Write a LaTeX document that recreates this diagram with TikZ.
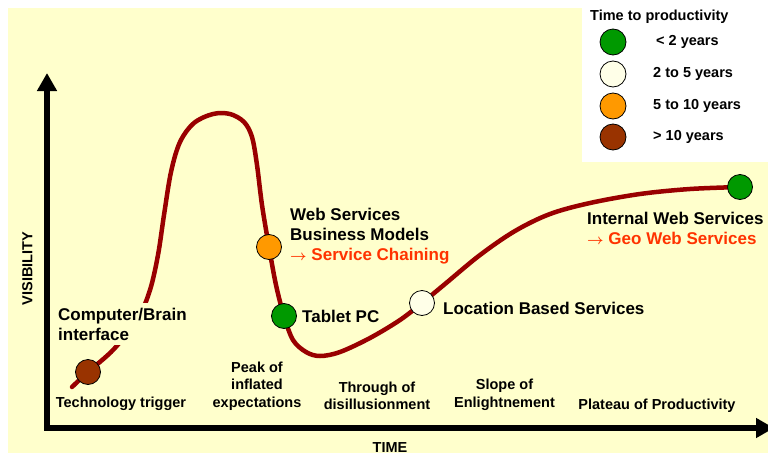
\documentclass[tikz,border=0pt]{standalone}
\usepackage{fontspec}
\setmainfont{Liberation Sans}
\newcommand{\rarr}{{\fontsize{15.5}{15.5}\selectfont\boldmath$\rightarrow$}}
\usetikzlibrary{arrows.meta}
\definecolor{bgyellow}{HTML}{FFFFCC}
\definecolor{curvered}{HTML}{990000}
\definecolor{dotgreen}{HTML}{009900}
\definecolor{dotpale}{HTML}{FFFFE8}
\definecolor{dotorange}{HTML}{FF9900}
\definecolor{dotbrown}{HTML}{993300}
\definecolor{redtext}{HTML}{FF3300}
\tikzset{
  lbl/.style={font=\fontsize{17}{20}\selectfont\bfseries, align=left, inner sep=0pt},
  phase/.style={font=\fontsize{14.5}{17.5}\selectfont\bfseries, align=center, inner sep=0pt},
  legtxt/.style={font=\fontsize{14.5}{17}\selectfont\bfseries, inner sep=0pt, anchor=west},
  dot/.style={circle, draw=black, line width=0.8pt, minimum size=25pt, inner sep=0pt},
  hype/.style={draw=curvered, line width=4.5pt, line cap=round},
  axis/.style={line width=5.5pt, line join=miter, {Triangle[width=19pt,length=18pt]}-{Triangle[width=19pt,length=18pt]}},
}
\begin{document}
\begin{tikzpicture}[x=1pt,y=-1pt]
\useasboundingbox (0,0) rectangle (768,455);
\clip (0,0) rectangle (768,455);
\fill[white] (0,0) rectangle (768,455);
\fill[bgyellow] (8,8) rectangle (768,453);
\fill[white] (582,0) rectangle (768,162);

% axes
\coordinate (origin) at (47,428);
\coordinate (ytop) at (47,73);
\coordinate (xend) at (774,428);
\draw[axis] (ytop) -- (origin) -- (xend);
\node[phase, rotate=90] (vis) at (27.5,268.5) {VISIBILITY};
\node[phase] (time) at (390,448) {TIME};

% curve points
\coordinate (c0) at (72,387);
\coordinate (p1) at (88,372);
\coordinate (p2) at (269,247);
\coordinate (p3) at (284,316);
\coordinate (p4) at (422,303);
\coordinate (p5) at (740,187);
\draw[hype] plot[smooth, tension=0.55] coordinates {(c0) (p1) (114,349) (138,318) (150,290) (158,255) (164,215) (171,172) (180,142) (194,123) (213,114) (230,114) (244,122) (252,137) (257,165) (262,205) (p2) (276,285) (p3) (293,340) (306,352) (320,356) (340,352) (370,338) (400,320) (p4) (445,284) (480,255) (515,231) (550,214) (590,203) (640,194) (690,189) (p5)};

% label masking the curve
\node[lbl, fill=bgyellow, inner xsep=2pt, inner ysep=5pt, anchor=west] (cbi) at (56,324) {Computer/Brain\\interface};

% dots on curve
\node[dot, fill=dotbrown] (d1) at (p1) {};
\node[dot, fill=dotorange] (d2) at (p2) {};
\node[dot, fill=dotgreen] (d3) at (p3) {};
\node[dot, fill=dotpale] (d4) at (p4) {};
\node[dot, fill=dotgreen] (d5) at (p5) {};

% item labels
\node[lbl, anchor=west] (wsb) at (290,236) {Web Services\\Business Models\\\textcolor{redtext}{\rarr\ Service Chaining}};
\node[lbl, anchor=west] (tpc) at (302,316.5) {Tablet PC};
\node[lbl, anchor=west] (lbs) at (443,308.5) {Location Based Services};
\node[lbl, anchor=west] (iws) at (587,228.5) {Internal Web Services\\\textcolor{redtext}{\rarr\ Geo Web Services}};

% phase labels
\node[phase] (ph1) at (121,403.5) {Technology trigger};
\node[phase] (ph2) at (257,386) {Peak of\\inflated\\expectations};
\node[phase] (ph3) at (377,396) {Through of\\disillusionment};
\node[phase] (ph4) at (504.5,395) {Slope of\\Enlightnement};
\node[phase] (ph5) at (657,406) {Plateau of Productivity};

% legend
\node[legtxt] (lt) at (590,16.5) {Time to productivity};
\node[dot, fill=dotgreen, minimum size=26pt] (l1) at (613,42) {};
\node[dot, fill=dotpale, minimum size=26pt] (l2) at (613,74) {};
\node[dot, fill=dotorange, minimum size=26pt] (l3) at (613,106) {};
\node[dot, fill=dotbrown, minimum size=26pt] (l4) at (613,137) {};
\node[legtxt] (t1) at (656,42) {< 2 years};
\node[legtxt] (t2) at (653,74) {2 to 5 years};
\node[legtxt] (t3) at (653,106) {5 to 10 years};
\node[legtxt] (t4) at (653,137) {> 10 years};
\end{tikzpicture}
\end{document}
